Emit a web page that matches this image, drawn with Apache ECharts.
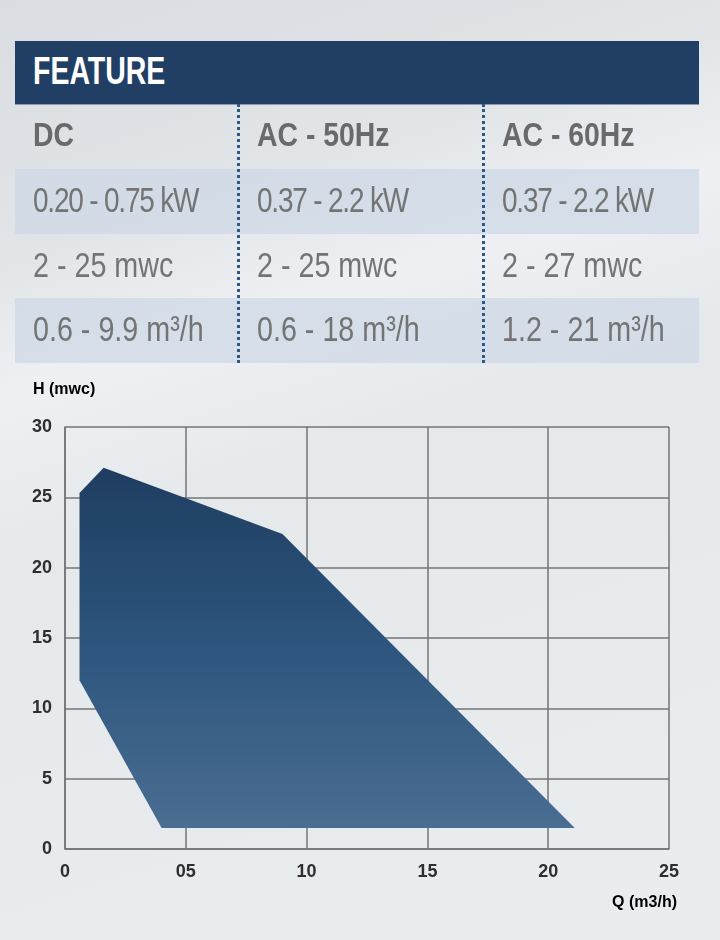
<!DOCTYPE html>
<html>
<head>
<meta charset="utf-8">
<title>Feature chart</title>
<script src="https://cdn.jsdelivr.net/npm/echarts@6/dist/echarts.min.js"></script>
<style>
  html, body { margin: 0; padding: 0; }
  body {
    width: 720px; height: 940px; position: relative; overflow: hidden;
    font-family: "Liberation Sans", Arial, sans-serif;
    background: linear-gradient(162deg, #d9dce0 0%, #e2e5e8 22%, #eef0f3 34%, #e6e9ec 48%, #eaedf0 100%);
  }
  #chart { position: absolute; left: 0; top: 0; width: 720px; height: 940px; }
  #feature { position: absolute; left: 15px; top: 41px; width: 684px; height: 63px;
    background: #213f64; border-bottom: 1px solid #8a9bb0; }
  #feature span { position: absolute; left: 18px; top: 8px; color: #fff; font-weight: bold;
    font-size: 39px; transform: scaleX(0.73); transform-origin: left center; }
  .row { position: absolute; left: 15px; width: 684px; height: 65px; }
  .band { background: rgba(205, 216, 230, 0.75); }
  .cell { position: absolute; top: -2px; height: 65px; line-height: 65px; white-space: nowrap;
    color: #747474; font-size: 35px; transform: scaleX(0.82); transform-origin: left center; }
  .head .cell { font-weight: bold; font-size: 33px; color: #6a6a6a; transform: scaleX(0.86); }
  .kw .cell { letter-spacing: -1.5px; transform: scaleX(0.8); }
  .div { position: absolute; top: 104px; height: 259px; width: 0; border-left: 3px dotted #2c5a86; }
</style>
</head>
<body>
<div id="chart"></div>
<div id="feature"><span>FEATURE</span></div>
<div id="table"></div>
<div class="div" style="left:237px"></div>
<div class="div" style="left:482px"></div>
<script>
// table text
const columns = ['DC', 'AC - 50Hz', 'AC - 60Hz'];
const powerRow = ['0.20 - 0.75 kW', '0.37 - 2.2 kW', '0.37 - 2.2 kW'];
const headRow = ['2 - 25 mwc', '2 - 25 mwc', '2 - 27 mwc'];
const flowRow = ['0.6 - 9.9 m³/h', '0.6 - 18 m³/h', '1.2 - 21 m³/h'];

// operating envelope, Q (m3/h) / H (mwc)
const qPoints = [0.6, 1.6, 9.0, 21.1, 4.0, 0.6];
const hPoints = [25.3, 27.1, 22.4, 1.5, 1.5, 12.0];

const xTickLabels = ['0', '05', '10', '15', '20', '25'];
const yTickLabels = ['0', '5', '10', '15', '20', '25', '30'];

// build table
const table = document.getElementById('table');
const rows = [
  { cls: 'head', top: 104, cells: columns },
  { cls: 'band kw', top: 169, cells: powerRow },
  { cls: '', top: 234, cells: headRow },
  { cls: 'band', top: 298, cells: flowRow }
];
const colX = [18, 242, 487];
rows.forEach(r => {
  const row = document.createElement('div');
  row.className = 'row ' + r.cls;
  row.style.top = r.top + 'px';
  r.cells.forEach((t, i) => {
    const c = document.createElement('div');
    c.className = 'cell';
    c.style.left = colX[i] + 'px';
    c.textContent = t;
    row.appendChild(c);
  });
  table.appendChild(row);
});

const chart = echarts.init(document.getElementById('chart'), null, { renderer: 'canvas' });
const labelFont = { color: '#2e2e2e', fontSize: 18, fontFamily: '"Liberation Sans", Arial, sans-serif', fontWeight: 'bold' };

const option = {
  backgroundColor: 'transparent',
  animation: false,
  grid: { left: 65, top: 427, width: 604, height: 422 },
  xAxis: {
    type: 'value', min: 0, max: 25, interval: 5,
    axisLine: { show: true, lineStyle: { color: '#737373', width: 1.5 } },
    axisTick: { show: false },
    splitLine: { show: true, lineStyle: { color: '#757575', width: 1.5 } },
    axisLabel: Object.assign({ margin: 14, formatter: (v) => xTickLabels[v / 5] }, labelFont)
  },
  yAxis: {
    type: 'value', min: 0, max: 30, interval: 5,
    axisLine: { show: true, lineStyle: { color: '#737373', width: 1.5 } },
    axisTick: { show: false },
    splitLine: { show: true, lineStyle: { color: '#757575', width: 1.5 } },
    axisLabel: Object.assign({ margin: 13, formatter: (v) => yTickLabels[v / 5] }, labelFont)
  },
  graphic: [
    { type: 'text', left: 33, top: 382, style: Object.assign({ text: 'H (mwc)' }, labelFont, { fontSize: 16 }) },
    { type: 'text', right: 43, top: 895, style: Object.assign({ text: 'Q (m3/h)' }, labelFont, { fontSize: 16 }) }
  ],
  series: [{
    type: 'custom',
    coordinateSystem: 'cartesian2d',
    data: [[qPoints[0], hPoints[0]]],
    renderItem: function (params, api) {
      const pts = qPoints.map((q, i) => api.coord([q, hPoints[i]]));
      return {
        type: 'polygon',
        shape: { points: pts },
        style: {
          fill: new echarts.graphic.LinearGradient(0, 0, 0, 1, [
            { offset: 0, color: '#1f3d61' },
            { offset: 0.5, color: '#2d557d' },
            { offset: 1, color: '#4a6d92' }
          ])
        }
      };
    }
  }]
};
chart.setOption(option);
</script>
</body>
</html>
